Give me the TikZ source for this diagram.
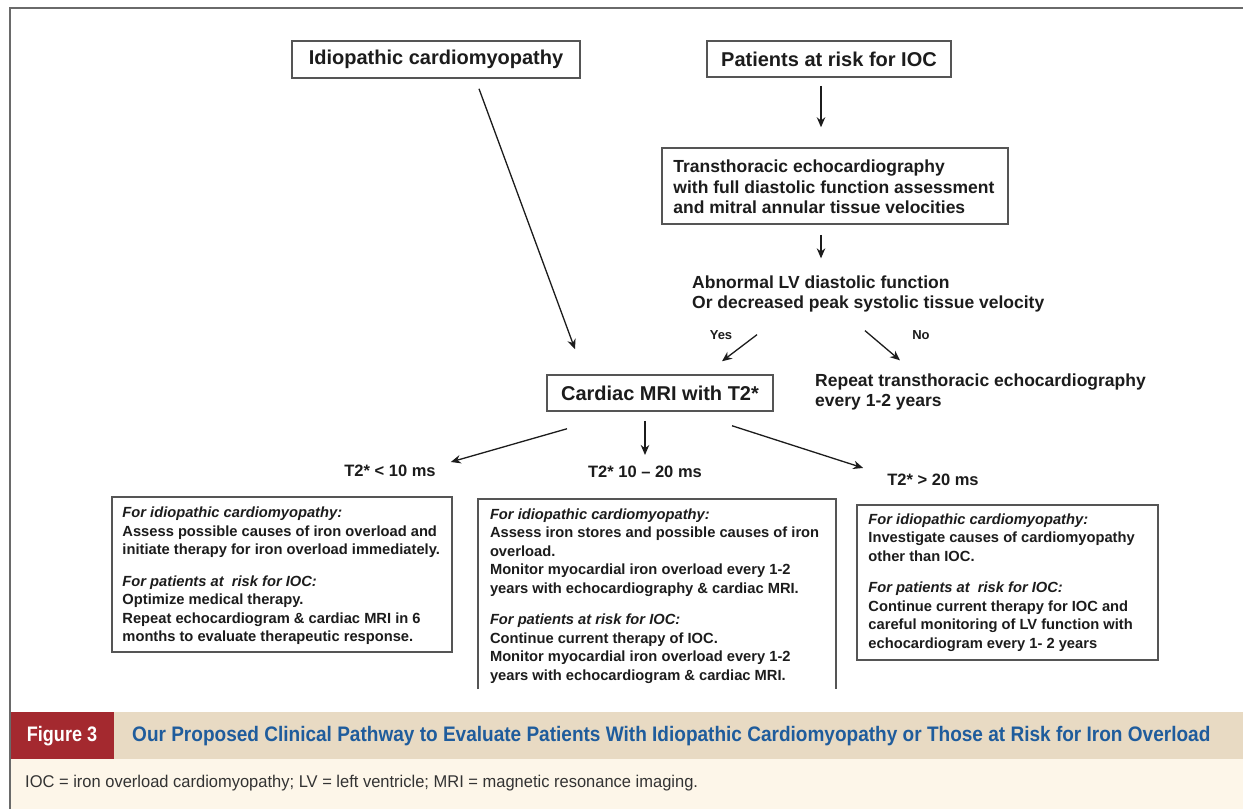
\documentclass[tikz,border=0pt]{standalone}
\usepackage{fontspec}
\usepackage{graphicx}
\setmainfont{Liberation Sans}
\usetikzlibrary{arrows.meta,calc}

\definecolor{framegray}{HTML}{6A6A6A}
\definecolor{boxgray}{HTML}{555555}
\definecolor{inkblack}{HTML}{1C1C1C}
\definecolor{capred}{HTML}{A4292F}
\definecolor{capbeige}{HTML}{E8DAC3}
\definecolor{capcream}{HTML}{FDF6E9}
\definecolor{capblue}{HTML}{1F5C9C}
\definecolor{notegray}{HTML}{333333}

\tikzset{
  topbox/.style={draw=boxgray, line width=1.5pt, fill=white, inner sep=0pt,
    text=inkblack, font=\fontsize{20}{24}\selectfont\bfseries},
  panel/.style={draw=boxgray, line width=1.5pt, fill=white, inner sep=0pt},
  paneltext/.style={anchor=west, align=left, inner sep=0pt, text=inkblack,
    font=\fontsize{14.7}{18.6}\selectfont\bfseries},
  plain/.style={inner sep=0pt, text=inkblack, font=\fontsize{17.5}{20.6}\selectfont\bfseries},
  rangelabel/.style={inner sep=0pt, text=inkblack, font=\fontsize{16.5}{20}\selectfont\bfseries},
  branchlabel/.style={inner sep=0pt, text=inkblack, font=\fontsize{13}{15}\selectfont\bfseries},
  arr/.style={draw=inkblack, line width=1.3pt, -{Stealth[length=10pt,width=8.5pt]}}
}

\begin{document}
\begin{tikzpicture}[x=1pt,y=-1pt]
\useasboundingbox (0,0) rectangle (1243,809);
\fill[white] (0,0) rectangle (1243,809);

% entry points
\node[topbox, minimum width=288, minimum height=37] (idio) at (436,59.5) {Idiopathic cardiomyopathy};
\node[topbox, minimum width=244, minimum height=36] (risk) at (829,59) {Patients at risk for IOC};

% echocardiography step
\node[topbox, minimum width=346, minimum height=76] (echo) at (835,186) {};
\node[plain, anchor=west, align=left] (echotxt) at ($(echo.west)+(12,1)$)
  {Transthoracic echocardiography\\with full diastolic function assessment\\and mitral annular tissue velocities};

% decision
\node[plain, anchor=west, align=left] (abn) at (692,294)
  {Abnormal LV diastolic function\\Or decreased peak systolic tissue velocity};
\node[branchlabel] (yes) at (721,335) {Yes};
\node[branchlabel] (no) at (921,335) {No};

\node[topbox, minimum width=226, minimum height=36] (mri) at (660,393) {Cardiac MRI with T2*};
\node[plain, anchor=west, align=left] (repeat) at (815,392)
  {Repeat transthoracic echocardiography\\every 1-2 years};

% T2* ranges
\node[rangelabel] (t2lo) at (390,471) {T2* < 10 ms};
\node[rangelabel] (t2mid) at (645,472) {T2* 10 -- 20 ms};
\node[rangelabel] (t2hi) at (933,480) {T2* > 20 ms};

% recommendation panels
\node[panel, minimum width=340, minimum height=155] (lbox) at (282,574.5) {};
\node[paneltext] (ltxt) at ($(lbox.west)+(11,1.5)$)
  {\itshape For idiopathic cardiomyopathy:\\
   Assess possible causes of iron overload and\\
   initiate therapy for iron overload immediately.\\[12.5pt]
   \itshape For patients at\ \ risk for IOC:\\
   Optimize medical therapy.\\
   Repeat echocardiogram \& cardiac MRI in 6\\
   months to evaluate therapeutic response.};

\node[inner sep=0pt, minimum width=358, minimum height=190] (mbox) at (657,594) {};
\fill[white] (mbox.south west) rectangle (mbox.north east);
\draw[draw=boxgray, line width=1.5pt] (mbox.south west) -- (mbox.north west) -- (mbox.north east) -- (mbox.south east);
\node[paneltext] (mtxt) at ($(mbox.west)+(12,2)$)
  {\itshape For idiopathic cardiomyopathy:\\
   Assess iron stores and possible causes of iron\\
   overload.\\
   Monitor myocardial iron overload every 1-2\\
   years with echocardiography \& cardiac MRI.\\[12.5pt]
   \itshape For patients at risk for IOC:\\
   Continue current therapy of IOC.\\
   Monitor myocardial iron overload every 1-2\\
   years with echocardiogram \& cardiac MRI.};

\node[panel, minimum width=301, minimum height=155] (rbox) at (1007.5,582.5) {};
\node[paneltext] (rtxt) at ($(rbox.west)+(12,0)$)
  {\itshape For idiopathic cardiomyopathy:\\
   Investigate causes of cardiomyopathy\\
   other than IOC.\\[12.5pt]
   \itshape For patients at\ \ risk for IOC:\\
   Continue current therapy for IOC and\\
   careful monitoring of LV function with\\
   echocardiogram every 1- 2 years};

% connectors
\draw[arr] ($(idio.south)+(43,10)$) -- ($(mri.north)+(-85,-25)$);
\draw[arr] ($(risk.south)+(-8,8)$) -- ($(echo.north)+(-14,-20)$);
\draw[arr] ($(echo.south)+(-14,10)$) -- ($(abn.north west)+(129,-17)$);
\draw[arr] ($(abn.south west)+(65,22)$) -- ($(mri.north)+(62,-13)$);
\draw[arr] ($(abn.south west)+(173,18)$) -- ($(repeat.north west)+(85,-13)$);
\draw[arr] ($(mri.south)+(-93,17)$) -- ($(t2lo.east)+(15,-9)$);
\draw[arr] ($(mri.south)+(-15,9)$) -- ($(t2mid.north)+(0,-11)$);
\draw[arr] ($(mri.south)+(72,14)$) -- ($(t2hi.north west)+(-24,-6)$);

% caption band
\fill[capbeige] (10,712) rectangle (1243,759);
\fill[capred] (10,712) rectangle (114,759);
\fill[capcream] (10,759) rectangle (1243,809);
\node[inner sep=0pt, text=white, font=\fontsize{21}{24}\selectfont\bfseries] (fig) at (62,736)
  {\scalebox{0.86}[1]{Figure 3}};
\node[inner sep=0pt, anchor=west, text=capblue, font=\fontsize{21}{24}\selectfont\bfseries] (title) at (132,736)
  {\scalebox{0.906}[1]{Our Proposed Clinical Pathway to Evaluate Patients With Idiopathic Cardiomyopathy or Those at Risk for Iron Overload}};
\node[inner sep=0pt, anchor=west, text=notegray, font=\fontsize{17}{20}\selectfont] (note) at (25,783)
  {\scalebox{0.97}[1]{IOC = iron overload cardiomyopathy; LV = left ventricle; MRI = magnetic resonance imaging.}};

% outer frame
\draw[framegray, line width=2.2pt] (10,809) -- (10,8) -- (1243,8);
\end{tikzpicture}
\end{document}
